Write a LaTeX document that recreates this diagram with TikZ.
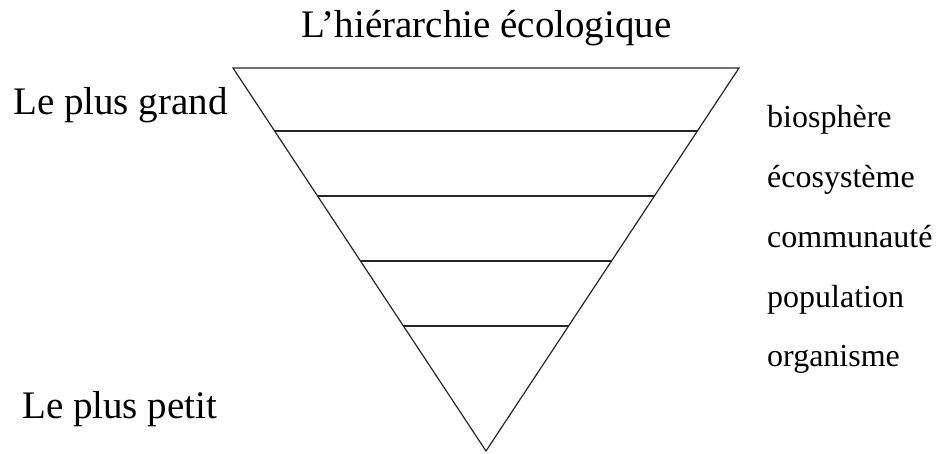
\documentclass[tikz,border=0pt]{standalone}
\usepackage{fontspec}
\setmainfont{Liberation Serif}
\usetikzlibrary{calc}
\begin{document}
\begin{tikzpicture}[x=1pt,y=-1pt,
  bigtxt/.style={font=\fontsize{39}{41}\selectfont,inner sep=0pt,anchor=base west},
  smalltxt/.style={font=\fontsize{32}{34}\selectfont,inner sep=0pt,anchor=base west},
  edge/.style={draw=black!85,line width=1.2pt,line join=miter}]
\useasboundingbox (0,0) rectangle (938,453);
\coordinate (A) at (233,68);
\coordinate (B) at (739,68);
\coordinate (C) at (486,451);
\draw[edge] (A) -- (B) -- (C) -- cycle;
\foreach \t [count=\i] in {0.1645,0.3342,0.5039,0.6736}{
  \coordinate (L\i) at ($(A)!\t!(C)$);
  \coordinate (R\i) at ($(B)!\t!(C)$);
  \draw[edge] (L\i) -- (R\i);
}
\node[bigtxt,anchor=base] (title) at (486.5,37) {L’hiérarchie écologique};
\node[bigtxt] (grand) at (13,114) {Le plus grand};
\node[bigtxt] (petit) at (22,418) {Le plus petit};
\node[smalltxt] (bio) at (767,127) {biosphère};
\node[smalltxt] (eco) at (767,187) {écosystème};
\node[smalltxt] (com) at (767,247) {communauté};
\node[smalltxt] (pop) at (767,307) {population};
\node[smalltxt] (org) at (767,366) {organisme};
\end{tikzpicture}
\end{document}
